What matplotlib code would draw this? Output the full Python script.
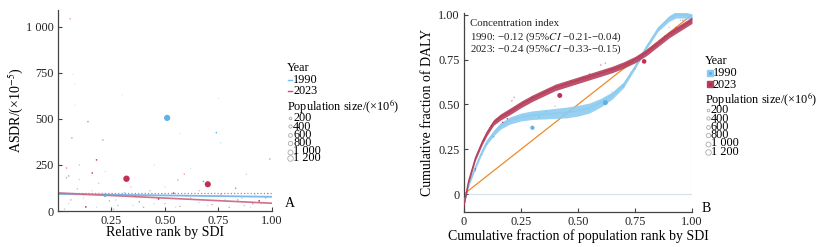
import matplotlib
matplotlib.use('Agg')
import matplotlib.pyplot as plt
from matplotlib.lines import Line2D
import numpy as np

plt.rcParams['font.family'] = ['Liberation Serif', 'DejaVu Serif']
plt.rcParams['mathtext.fontset'] = 'stix'

# ---- panel A data: ASDR vs relative SDI rank ----
a90_x = [0.51, 0.22, 0.14, 0.74, 0.76, 0.04, 0.68, 0.88, 0.83, 0.98, 0.38, 0.10, 0.07, 0.08, 0.08,
         0.30, 0.75, 0.57, 0.45, 0.31, 0.27, 0.35, 0.45, 0.60, 0.66, 0.78, 0.86, 0.92, 0.95, 0.05,
         0.12, 0.18, 0.55, 0.70, 0.90, 0.22, 0.16, 0.50, 0.62]
a90_y = [505, 85, 485, 425, 370, 180, 160, 200, 123, 95, 50, 170, 740, 690, 575,
         630, 610, 420, 250, 100, 60, 30, 40, 80, 45, 60, 70, 90, 40, 40,
         70, 20, 20, 30, 20, 215, 110, 130, 230]
a90_pop = [1150, 300, 20, 20, 5, 15, 20, 8, 25, 15, 20, 8, 2, 2, 2,
           2, 2, 3, 3, 10, 8, 6, 5, 8, 6, 10, 8, 6, 6, 6,
           6, 5, 5, 5, 5, 3, 4, 4, 3]

a23_x = [0.32, 0.70, 0.057, 0.065, 0.21, 0.18, 0.16, 0.04, 0.05, 0.10, 0.59, 0.56, 0.99, 0.54,
         0.47, 0.13, 0.94, 0.91, 0.06, 0.09, 0.12, 0.24, 0.28, 0.36, 0.40, 0.43, 0.50, 0.57,
         0.62, 0.66, 0.72, 0.76, 0.80, 0.84, 0.87, 0.97, 0.03, 0.19, 0.26, 0.34]
a23_y = [175, 145, 1042, 396, 385, 277, 206, 233, 190, 250, 200, 168, 282, 97,
         65, 22, 55, 40, 60, 120, 90, 55, 30, 80, 20, 110, 40, 25,
         70, 110, 35, 90, 20, 60, 30, 70, 10, 150, 10, 130]
a23_pop = [1200, 1100, 8, 10, 10, 20, 20, 10, 10, 5, 8, 8, 10, 20,
           25, 30, 30, 10, 8, 6, 6, 8, 6, 6, 8, 5, 6, 8,
           6, 5, 8, 6, 8, 10, 6, 6, 5, 4, 5, 4]

# fitted regression lines (ends) and upper CI edge
reg_x = [0.0, 1.0]
reg_90 = [92, 77]
reg_23 = [98, 42]
reg_90_hi = [97, 97]

# ---- panel B data: concentration curves ----
c90_x = [0, 0.02, 0.05, 0.08, 0.10, 0.13, 0.16, 0.20, 0.25, 0.30, 0.35, 0.40, 0.45, 0.50,
         0.55, 0.60, 0.65, 0.70, 0.75, 0.80, 0.85, 0.90, 0.93, 0.96, 1.00]
c90_y = [-0.05, 0.05, 0.15, 0.24, 0.29, 0.34, 0.38, 0.41, 0.43, 0.44, 0.445, 0.45, 0.455, 0.465,
         0.48, 0.51, 0.55, 0.61, 0.71, 0.82, 0.92, 0.98, 1.0, 1.0, 0.99]
c90_hw = [0.005, 0.008, 0.01, 0.012, 0.014, 0.016, 0.018, 0.02, 0.022, 0.024, 0.026, 0.028, 0.03, 0.03,
          0.028, 0.024, 0.02, 0.016, 0.012, 0.012, 0.014, 0.016, 0.018, 0.018, 0.015]

c23_x = [0, 0.02, 0.05, 0.08, 0.10, 0.13, 0.16, 0.20, 0.25, 0.30, 0.35, 0.40, 0.45, 0.50,
         0.55, 0.60, 0.65, 0.70, 0.75, 0.80, 0.85, 0.90, 0.95, 1.00]
c23_y = [-0.06, 0.07, 0.20, 0.29, 0.34, 0.40, 0.43, 0.46, 0.50, 0.535, 0.565, 0.595, 0.615, 0.635,
         0.655, 0.675, 0.695, 0.72, 0.75, 0.79, 0.84, 0.89, 0.93, 0.97]
c23_hw = [0.008, 0.01, 0.012, 0.014, 0.015, 0.016, 0.017, 0.018, 0.018, 0.018, 0.018, 0.018, 0.018, 0.018,
          0.018, 0.018, 0.018, 0.018, 0.018, 0.018, 0.018, 0.018, 0.018, 0.018]

b90_x = [0.30, 0.62, 0.02, 0.05, 0.13, 0.33, 0.36, 0.40, 0.65, 0.70, 0.75, 0.77, 0.85, 0.90, 0.95, 0.08, 0.10]
b90_y = [0.37, 0.51, 0.05, 0.13, 0.32, 0.43, 0.46, 0.49, 0.57, 0.60, 0.70, 0.74, 0.85, 0.93, 0.97, 0.22, 0.28]
b90_pop = [500, 700, 10, 15, 20, 10, 8, 10, 8, 8, 10, 8, 10, 8, 10, 8, 8]

b23_x = [0.42, 0.79, 0.05, 0.12, 0.17, 0.19, 0.21, 0.22, 0.52, 0.55, 0.60, 0.62, 0.47, 0.88, 0.93, 0.96, 0.09, 0.30]
b23_y = [0.55, 0.74, 0.14, 0.38, 0.40, 0.42, 0.52, 0.54, 0.65, 0.67, 0.72, 0.73, 0.63, 0.88, 0.93, 0.97, 0.30, 0.54]
b23_pop = [700, 600, 15, 15, 15, 15, 10, 8, 10, 10, 10, 8, 10, 10, 10, 10, 8, 8]

ci_lines = ['Concentration index',
            '1990: \u22120.12 (95%$\\mathit{CI}$ \u22120.21-\u22120.04)',
            '2023: \u22120.24 (95%$\\mathit{CI}$ \u22120.33-\u22120.15)']

size_labels = ['200', '400', '600', '800', '1 000', '1 200']
size_values = [200, 400, 600, 800, 1000, 1200]

BLUE = '#5aaee6'
RED = '#c0224a'
BLUE_BAND = '#8ccbf0'
RED_BAND = '#b53f5c'
AXC = '#444444'
TICK_FS = 8.8
LABEL_FS = 10
LEG_FS = 8.8


def msize(pop):
    return 1.0 + np.asarray(pop) / 1200 * 20


def malpha(pop):
    return np.clip(0.15 + np.asarray(pop) / 25, 0.15, 0.95)


def style_axes(ax):
    for s in ['top', 'right']:
        ax.spines[s].set_visible(False)
    for s in ['left', 'bottom']:
        ax.spines[s].set_color(AXC)
        ax.spines[s].set_linewidth(0.9)
    ax.tick_params(direction='in', length=3, width=0.8, colors=AXC, labelsize=TICK_FS,
                   labelcolor='#222222', pad=3)


fig = plt.figure(figsize=(8.29, 2.47), dpi=100)

# ---------- panel A ----------
ax1 = fig.add_axes([58 / 829, 36 / 247, 214 / 829, 201 / 247])
for xs, ys, pops, col in [(a90_x, a90_y, a90_pop, BLUE), (a23_x, a23_y, a23_pop, RED)]:
    rgba = np.zeros((len(xs), 4))
    rgba[:, :3] = matplotlib.colors.to_rgb(col)
    rgba[:, 3] = malpha(pops)
    ax1.scatter(xs, ys, s=msize(pops), c=rgba, linewidths=0, zorder=3)
ax1.plot(reg_x, reg_90_hi, color='#c77b90', lw=0.9, ls=':', zorder=2)
ax1.plot(reg_x, reg_90, color='#7db9e8', lw=1.3, zorder=2)
ax1.plot(reg_x, reg_23, color='#d0708a', lw=1.2, zorder=2)
ax1.plot([1.0, 1.0], [reg_90[1] - 8, reg_90_hi[1]], color='#c9a0b0', lw=0.7)
ax1.set_xlim(0, 1.0)
ax1.set_ylim(0, 1090)
ax1.set_xticks([0.25, 0.5, 0.75, 1.0])
ax1.set_xticklabels(['0.25', '0.50', '0.75', '1.00'])
ax1.set_yticks([0, 250, 500, 750, 1000])
ax1.set_yticklabels(['0', '250', '500', '750', '1 000'])
ax1.set_xlabel('Relative rank by SDI', fontsize=LABEL_FS, labelpad=-1)
ax1.set_ylabel('ASDR/(\u00d710$^{-5}$)', fontsize=LABEL_FS, labelpad=1)
style_axes(ax1)

# ---------- panel B ----------
ax2 = fig.add_axes([464 / 829, 35 / 247, 228 / 829, 199 / 247])
ax2.plot([0, 1], [0, 0], color='#d5e3ef', lw=0.9, zorder=1)
ax2.plot([1, 1], [0, 1], color='#d5e3ef', lw=0.9, zorder=1)
ax2.plot([0, 1], [0, 1], color='#ec8a2c', lw=0.9, zorder=2)
for xs, ys, hw, col in [(c90_x, c90_y, c90_hw, BLUE_BAND), (c23_x, c23_y, c23_hw, RED_BAND)]:
    xs = np.array(xs)
    ys = np.array(ys)
    hw = np.array(hw)
    ax2.fill_between(xs, ys - hw, ys + hw, color=col, lw=0, alpha=0.9, zorder=3)
    ax2.plot(xs, ys, color=col, lw=1.0, zorder=3)
for xs, ys, pops, col in [(b90_x, b90_y, b90_pop, BLUE), (b23_x, b23_y, b23_pop, RED)]:
    rgba = np.zeros((len(xs), 4))
    rgba[:, :3] = matplotlib.colors.to_rgb(col)
    rgba[:, 3] = malpha(pops)
    ax2.scatter(xs, ys, s=msize(pops), c=rgba, linewidths=0, zorder=4)
ax2.set_xlim(0, 1.0)
ax2.set_ylim(-0.1, 1.01)
ax2.set_xticks([0, 0.25, 0.5, 0.75, 1.0])
ax2.set_xticklabels(['0', '0.25', '0.50', '0.75', '1.00'])
ax2.set_yticks([0, 0.25, 0.5, 0.75, 1.0])
ax2.set_yticklabels(['0', '0.25', '0.50', '0.75', '1.00'])
ax2.set_xlabel('Cumulative fraction of population rank by SDI', fontsize=LABEL_FS, labelpad=1)
ax2.set_ylabel('Cumulative fraction of DALY', fontsize=LABEL_FS, labelpad=3)
style_axes(ax2)
for i, line in enumerate(ci_lines):
    ax2.text(0.025, 0.97 - i * 0.06, line, transform=ax2.transAxes, fontsize=7.8,
             va='top', ha='left', color='#222222')


# ---------- legends (drawn by hand, entries overlap as in the source) ----------
def draw_legend(x0, y_year, y_pop, y_sizes, square):
    fx = lambda px: px / 829
    fy = lambda py: 1 - py / 247
    fig.text(fx(x0), fy(y_year), 'Year', fontsize=LEG_FS, va='center', ha='left')
    for (lab, col), yy in zip([('1990', BLUE), ('2023', RED)], [y_year + 12, y_year + 23.5]):
        if square:
            fig.add_artist(Line2D([fx(x0 + 5)], [fy(yy)], marker='s', ms=5,
                                  color=BLUE_BAND if lab == '1990' else RED_BAND,
                                  transform=fig.transFigure))
            fig.add_artist(Line2D([fx(x0 + 5)], [fy(yy)], marker='o', ms=1.2, color=col,
                                  transform=fig.transFigure))
            tx = x0 + 8
        else:
            fig.add_artist(Line2D([fx(x0 + 1), fx(x0 + 5)], [fy(yy), fy(yy)], lw=1.0,
                                  color=col, alpha=0.8, transform=fig.transFigure))
            tx = x0 + 6
        fig.text(fx(tx), fy(yy), lab, fontsize=LEG_FS, va='center', ha='left')
    fig.text(fx(x0), fy(y_pop), 'Population size/(\u00d710$^{6}$)', fontsize=LEG_FS,
             va='center', ha='left')
    for lab, val, yy in zip(size_labels, size_values, y_sizes):
        fig.add_artist(Line2D([fx(x0 + 3)], [fy(yy)], marker='o', ms=1.5 + val / 1200 * 2.5,
                              mfc='none', mec='#aaaaaa', mew=0.6, transform=fig.transFigure))
        fig.text(fx(x0 + 6), fy(yy), lab, fontsize=LEG_FS, va='center', ha='left')


draw_legend(287, 68, 106, [118, 126.5, 135, 143, 151.5, 158], square=False)
draw_legend(705, 61, 99, [110, 118.5, 127, 135, 143.5, 152], square=True)

fig.text(290 / 829, 1 - 203 / 247, 'A', fontsize=10, va='center', ha='center')
fig.text(706 / 829, 1 - 208 / 247, 'B', fontsize=10, va='center', ha='center')

fig.savefig('out.png', dpi=100)
